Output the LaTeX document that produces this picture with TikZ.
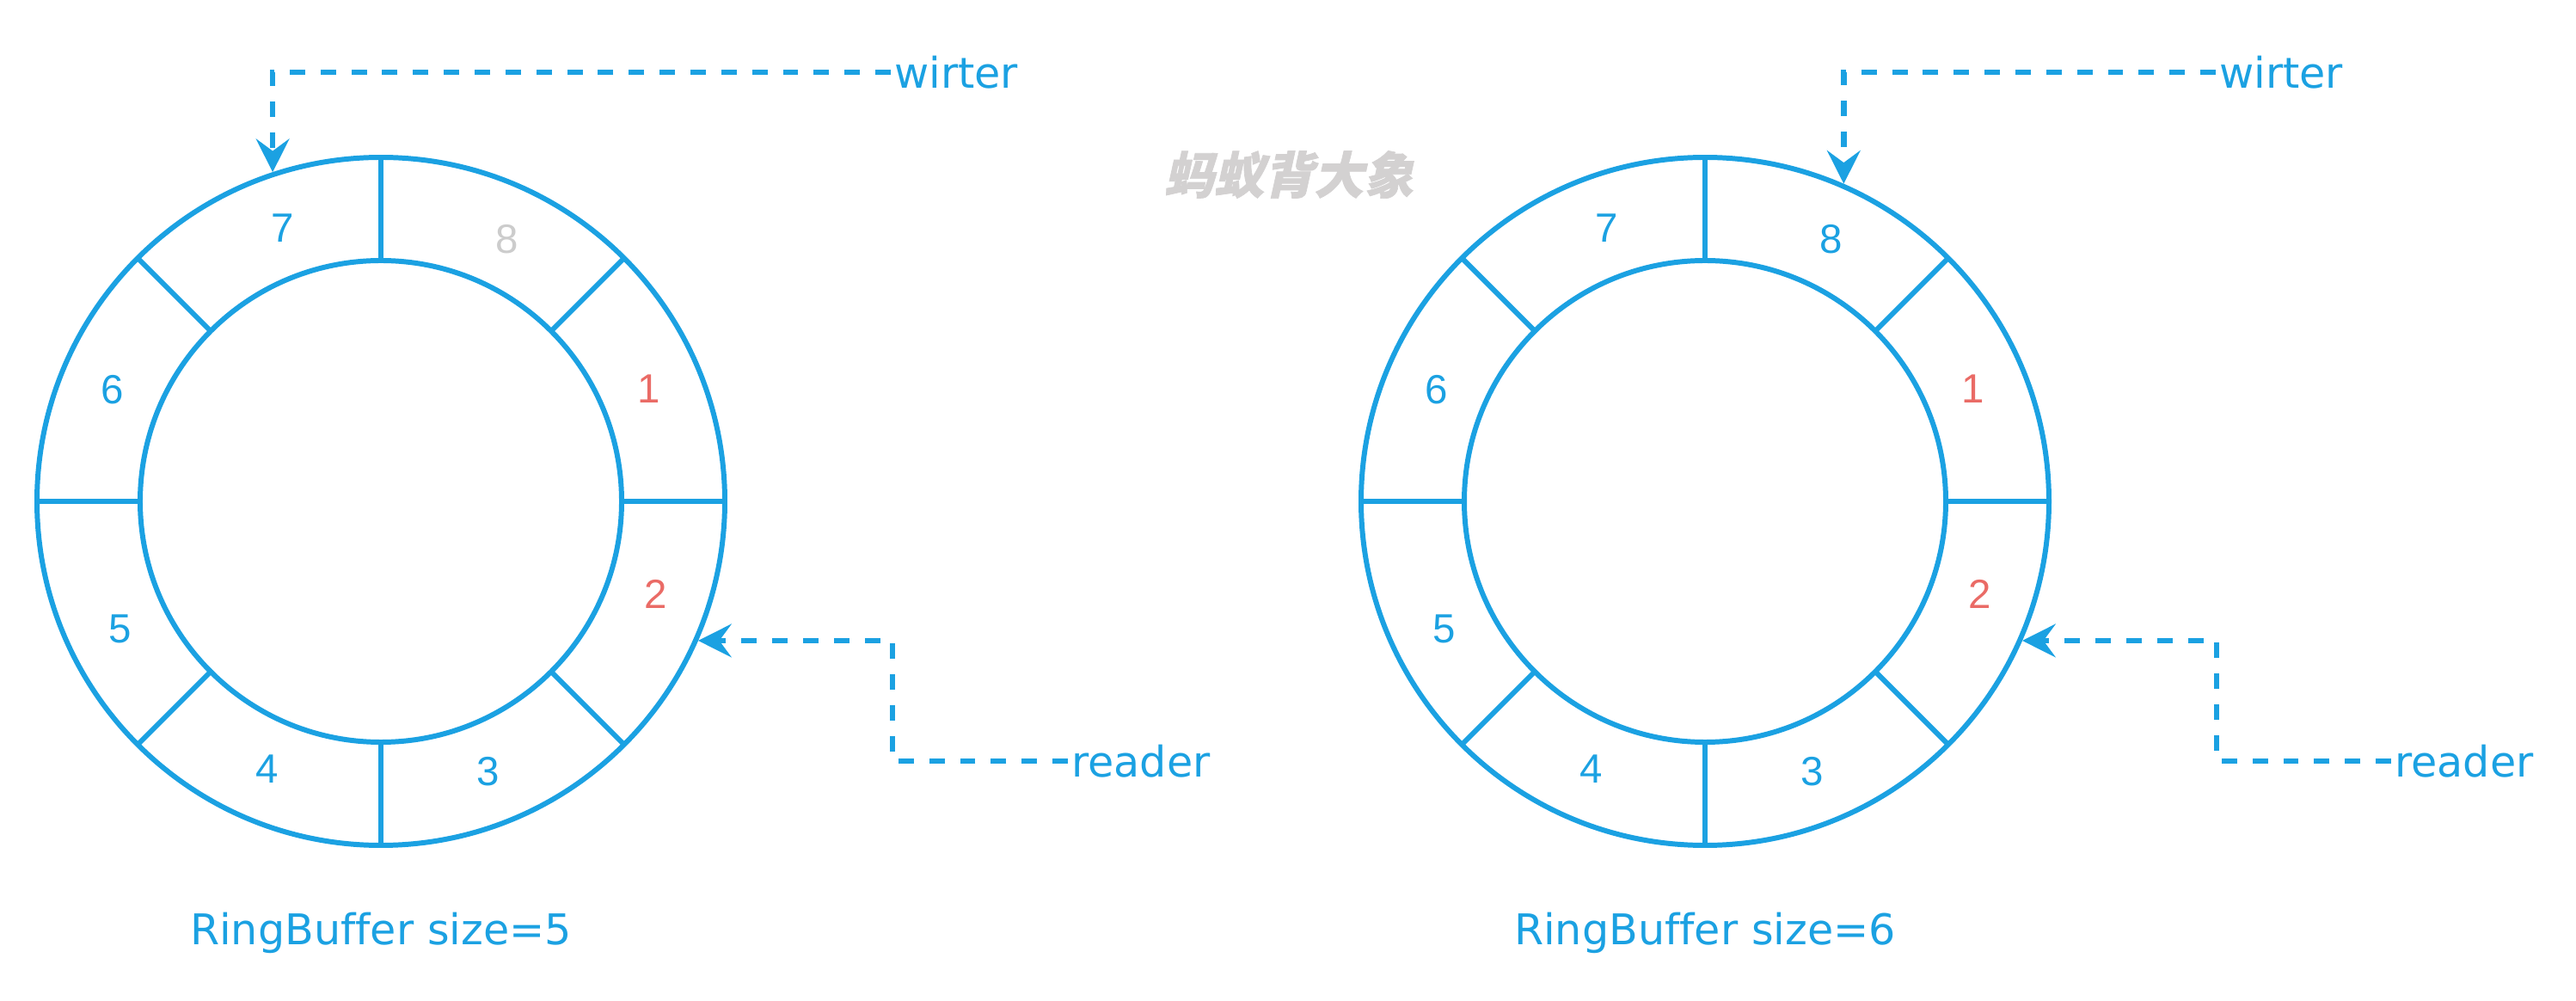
\documentclass[tikz,border=0pt]{standalone}
\usepackage{fontspec}
\setmainfont{DejaVu Sans}[Ligatures=NoCommon]
\newfontfamily\digitfont{Liberation Sans}
\newfontfamily\cjk[FakeSlant=0.22,FakeBold=1.2]{Noto Sans CJK SC}
\usepackage{xcolor}
\usetikzlibrary{arrows.meta,calc,positioning}

\definecolor{ringblue}{HTML}{1BA1E2}
\definecolor{ptrred}{HTML}{EA6B66}
\definecolor{markgray}{HTML}{D3D1D1}
\definecolor{slotgray}{HTML}{CCCCCC}

\begin{document}
\begin{tikzpicture}[
	ring/.style={draw=ringblue,line width=1.7pt},
	ptr/.style={draw=ringblue,line width=1.9pt,dash pattern=on 5.1pt off 5.1pt,
		-{Stealth[length=11pt,width=11pt,inset=4pt]}},
	slot/.style={font=\digitfont\fontsize{13.5}{15}\selectfont},
	tag/.style={text=ringblue,font=\fontsize{14}{16}\selectfont,inner sep=1pt}
]
	\useasboundingbox (0,0) rectangle (29.96,-11.64);
	
	\node[text=markgray,font=\cjk\bfseries\fontsize{16.5}{18}\selectfont] (mark) at (14.99,-2.03) {蚂蚁背大象};
	
	\coordinate (c5) at (4.43,-5.83);
	\coordinate (c6) at (19.83,-5.83);
	
	\foreach \c/\eight in {c5/slotgray,c6/ringblue}{
		\begin{scope}[shift={(\c)}]
			\draw[ring] (0,0) circle (4) (0,0) circle (2.8);
			\foreach \a in {0,45,...,315}
				\draw[ring] (\a:2.8)--(\a:4);
			\foreach \i/\a/\col in {1/22.8/ptrred,2/-18.7/ptrred,3/-68.3/ringblue,4/-113/ringblue,
				5/-154/ringblue,6/157.5/ringblue,7/109.7/ringblue,8/64.3/\eight}
				\node[slot,text=\col] (\c-\i) at (\a:3.38) {\i};
		\end{scope}
	}
	
	% writer and reader pointers
	\coordinate (w5) at ($(c5)+(108.2:4.03)$);
	\coordinate (w6) at ($(c6)+(66.4:4.03)$);
	\coordinate (r5) at ($(c5)+(-23.7:4.03)$);
	\coordinate (r6) at ($(c6)+(-23.7:4.03)$);
	
	\node[tag,anchor=west] (wr5) at (10.36,-0.84) {wirter};
	\node[tag,anchor=west] (wr6) at (25.77,-0.84) {wirter};
	\node[tag,anchor=west] (rd5) at (12.42,-8.85) {reader};
	\node[tag,anchor=west] (rd6) at (27.81,-8.85) {reader};
	
	\draw[ptr] (wr5.west) -| (w5);
	\draw[ptr] (wr6.west) -| (w6);
	\draw[ptr] (rd5.west) -| ([xshift=2.26cm]r5) -- (r5);
	\draw[ptr] (rd6.west) -| ([xshift=2.26cm]r6) -- (r6);
	
	\node[tag] (cap5) at (4.43,-10.85) {RingBuffer size=5};
	\node[tag] (cap6) at (19.83,-10.85) {RingBuffer size=6};
\end{tikzpicture}
\end{document}
